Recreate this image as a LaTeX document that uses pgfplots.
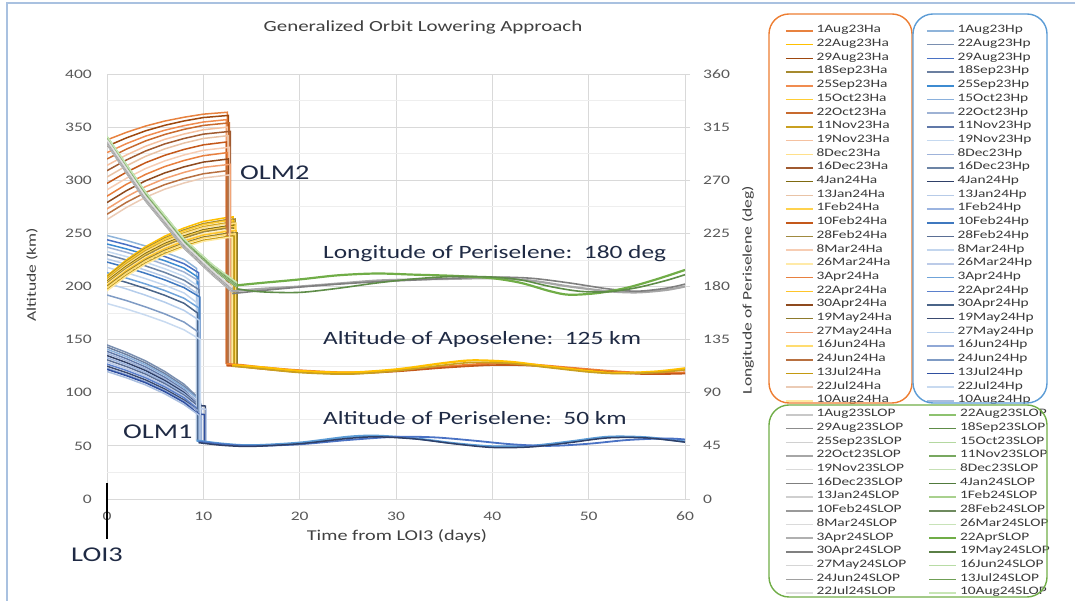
\documentclass[border=0pt]{standalone}
\usepackage{fontspec}
\setmainfont{Carlito}[FakeStretch=1.35]
\usepackage{pgfplots}
\pgfplotsset{compat=1.18}
\usepackage{pgfplotstable}
\newcommand{\fs}[1]{\fontsize{#1pt}{#1pt}\selectfont}
\newcommand{\mb}[1]{\makebox[109pt][l]{#1}}
% general colours
\definecolor{gridc}{HTML}{D9D9D9}
\definecolor{gridm}{HTML}{EEEEEE}
\definecolor{tickc}{HTML}{595959}
\definecolor{labc}{HTML}{404040}
\definecolor{legc}{HTML}{3A3A3A}
\definecolor{annc}{HTML}{1F2A44}
\definecolor{framec}{HTML}{A9C1E0}
\definecolor{boxo}{HTML}{ED7D31}
\definecolor{boxb}{HTML}{5B9BD5}
\definecolor{boxg}{HTML}{70AD47}
% Ha colours
\definecolor{ha1}{HTML}{E8823F}\definecolor{ha2}{HTML}{FFC000}
\definecolor{ha3}{HTML}{9E480E}\definecolor{ha4}{HTML}{A68A2E}
\definecolor{ha5}{HTML}{F08C50}\definecolor{ha6}{HTML}{FFCD33}
\definecolor{ha7}{HTML}{C86A2E}\definecolor{ha8}{HTML}{C9A020}
\definecolor{ha9}{HTML}{F5C1A0}\definecolor{ha10}{HTML}{FFE08A}
\definecolor{ha11}{HTML}{A05A30}\definecolor{ha12}{HTML}{7F6A10}
\definecolor{ha13}{HTML}{E9C3A6}\definecolor{ha14}{HTML}{FFD24D}
\definecolor{ha15}{HTML}{C4581A}\definecolor{ha16}{HTML}{A08A40}
\definecolor{ha17}{HTML}{F7CDB3}\definecolor{ha18}{HTML}{FFEAA8}
\definecolor{ha19}{HTML}{E8803F}\definecolor{ha20}{HTML}{FFC52A}
\definecolor{ha21}{HTML}{8E4A1E}\definecolor{ha22}{HTML}{8E7A2C}
\definecolor{ha23}{HTML}{F2A070}\definecolor{ha24}{HTML}{FFDC70}
\definecolor{ha25}{HTML}{B87040}\definecolor{ha26}{HTML}{C49A10}
\definecolor{ha27}{HTML}{EBCBB5}\definecolor{ha28}{HTML}{FFE9A0}
% Hp colours
\definecolor{hp1}{HTML}{8FB4DA}\definecolor{hp2}{HTML}{7A8FB0}
\definecolor{hp3}{HTML}{4A72C4}\definecolor{hp4}{HTML}{6B7FA0}
\definecolor{hp5}{HTML}{3D8BD1}\definecolor{hp6}{HTML}{8AB0DC}
\definecolor{hp7}{HTML}{9EB2D4}\definecolor{hp8}{HTML}{6078A8}
\definecolor{hp9}{HTML}{C5D9F0}\definecolor{hp10}{HTML}{9FB3DA}
\definecolor{hp11}{HTML}{6C84A5}\definecolor{hp12}{HTML}{2F4068}
\definecolor{hp13}{HTML}{B7CBE8}\definecolor{hp14}{HTML}{9BB4E0}
\definecolor{hp15}{HTML}{3F78BF}\definecolor{hp16}{HTML}{5A6E94}
\definecolor{hp17}{HTML}{C3D6EE}\definecolor{hp18}{HTML}{BCCBE8}
\definecolor{hp19}{HTML}{6FA3D9}\definecolor{hp20}{HTML}{5B80CC}
\definecolor{hp21}{HTML}{4A6488}\definecolor{hp22}{HTML}{3A4A70}
\definecolor{hp23}{HTML}{B5CDEB}\definecolor{hp24}{HTML}{90A8D6}
\definecolor{hp25}{HTML}{7F9BC4}\definecolor{hp26}{HTML}{2F4FA0}
\definecolor{hp27}{HTML}{C8DAF0}\definecolor{hp28}{HTML}{A9BEDF}
% SLOP colours
\definecolor{sl1}{HTML}{C8C8C8}\definecolor{sl2}{HTML}{8DC26F}
\definecolor{sl3}{HTML}{8C8C8C}\definecolor{sl4}{HTML}{5E8C48}
\definecolor{sl5}{HTML}{D0D0D0}\definecolor{sl6}{HTML}{B4D8A0}
\definecolor{sl7}{HTML}{A6A6A6}\definecolor{sl8}{HTML}{78A860}
\definecolor{sl9}{HTML}{D9D9D9}\definecolor{sl10}{HTML}{C5E0B4}
\definecolor{sl11}{HTML}{7F7F7F}\definecolor{sl12}{HTML}{507A3C}
\definecolor{sl13}{HTML}{CFCFCF}\definecolor{sl14}{HTML}{A9D18E}
\definecolor{sl15}{HTML}{999999}\definecolor{sl16}{HTML}{6E8A5E}
\definecolor{sl17}{HTML}{DADADA}\definecolor{sl18}{HTML}{C8E3B8}
\definecolor{sl19}{HTML}{B0B0B0}\definecolor{sl20}{HTML}{70AD47}
\definecolor{sl21}{HTML}{808080}\definecolor{sl22}{HTML}{5A7F46}
\definecolor{sl23}{HTML}{D5D5D5}\definecolor{sl24}{HTML}{B8DCA5}
\definecolor{sl25}{HTML}{A0A0A0}\definecolor{sl26}{HTML}{6F9F55}
\definecolor{sl27}{HTML}{E0E0E0}\definecolor{sl28}{HTML}{C8E6B6}

% post-manoeuvre phases (shared shapes)
\pgfplotstableread{
t v
12.4 127
14 126
16 124
20 121
25 119
30 121
35 124.5
40 127.5
44 126.5
48 123.5
52 120.5
56 118.5
60 119
}\haOA
\pgfplotstableread{
t v
12.4 125.5
14 124.5
16 122.5
20 119.5
25 118
30 120
35 123.5
40 126
44 125.5
48 122.5
52 119.5
56 117.5
60 118
}\haOB
\pgfplotstableread{
t v
13.0 126
16 124
20 120.5
25 119
30 122
35 128
38 130.5
42 129
46 124.5
50 120.5
53 118.5
57 120
60 123
}\haYA
\pgfplotstableread{
t v
13.0 125
16 122.5
20 119
25 117.5
30 120.5
35 126
38 128.5
42 127.5
46 123.5
50 119.5
53 118
57 119
60 121.5
}\haYB
\pgfplotstableread{
t v
9.3 55
12 52
15 50.5
20 53
25 58.5
28 59.5
32 57
36 52.5
40 49.5
44 50
48 54
52 58.5
56 58
60 54
}\hpA
\pgfplotstableread{
t v
9.5 54
12 51.5
15 50
20 51.5
25 55.5
30 58.5
34 58
38 55
42 51.5
46 50
50 52
54 55.5
58 57
60 56
}\hpB
\pgfplotstableread{
t v
9.5 53
12 50.5
15 49.5
20 52
25 57
28 58.5
32 56.5
36 52
40 48.5
44 49
48 53
52 57.5
56 57.5
60 53.5
}\hpC
\pgfplotstableread{
t v
13.5 181
16 183
20 186
24 189.5
28 191
32 190
36 189
40 187
43 183
46 176
48 173
51 174.5
54 179
57 186
60 194
}\sgA
\pgfplotstableread{
t v
13.5 178
16 175.5
20 175
24 178.5
28 183
32 186.5
36 188.5
40 188
43 185.5
46 180
49 176
52 175.5
55 179
58 185
60 190
}\sgB
\pgfplotstableread{
t v
13 176
16 178
20 180
24 182.5
28 185
32 186
36 186.5
40 187
44 185
48 180
52 176
55 175
58 177
60 180
}\sgrA
\pgfplotstableread{
t v
13 174
16 176.5
20 179.5
24 182
28 184
32 185.5
36 187
40 188
44 187
48 183
52 178
55 176
58 178.5
60 182
}\sgrB

\pgfplotsset{
  base/.style={
    at={(107pt,102pt)}, anchor=south west,
    width=578pt, height=425pt, scale only axis,
    xmin=0, xmax=60,
    every axis plot/.append style={line width=1.5pt},
  },
  myleg/.style={
    legend style={draw=none, fill=none, inner sep=0pt, outer sep=0pt,
      font=\fs{11.4}, row sep=0pt, column sep=3pt,
      nodes={inner sep=0pt, text height=8.7pt, text depth=5pt, text=legc},
      anchor=north west, at={#1}},
    legend cell align=left,
    legend image code/.code={\draw[##1, line width=1.5pt] (0pt,0pt) -- (27pt,0pt);},
  },
}

\begin{document}
\begin{tikzpicture}[x=1pt,y=1pt]
\useasboundingbox (0,0) rectangle (1075,601);
\draw[framec, line width=1.2pt] (7,0) -- (7,598) -- (1075,598);

% ---------------- Hp axis (with grid and left scale)
\begin{axis}[base,
  ymin=0, ymax=400,
  ytick={0,50,...,400}, minor ytick={25,75,...,375},
  xtick={0,10,...,60},
  grid=both,
  major grid style={gridc, line width=0.8pt},
  minor grid style={gridm, line width=0.8pt},
  axis line style={draw=none},
  major tick length=0pt, minor tick length=0pt,
  tick label style={font=\fs{13}, text=tickc, /pgf/number format/assume math mode=true},
  xticklabel style={inner sep=0pt, yshift=-13pt},
  yticklabel style={inner sep=0pt, xshift=-15pt},
  xlabel={Time from LOI3 (days)}, ylabel={Altitude (km)},
  xlabel style={font=\fs{15}, text=labc, at={(axis description cs:0.5017,-0.0871)}, anchor=center},
  ylabel style={font=\fs{13}, text=labc, at={(axis description cs:-0.1298,0.527)}, anchor=center},
  myleg={(axis description cs:1.41696,1.1173)},
]
\addplot[hp1] coordinates {(0,248)(2,243.4)(4,238.1)(6,232.2)(8,225.4)(9.3,217)(9.3,55)}; \addlegendentry{1Aug23Hp}
\addplot[hp2] coordinates {(0,145)(2,138)(4,130)(6,120)(8,108)(9.5,95)(9.5,54)}; \addlegendentry{22Aug23Hp}
\addplot[hp3] coordinates {(0,244)(2,239.4)(4,234.1)(6,228.2)(8,221.4)(9.5,213)(9.5,55)}; \addlegendentry{29Aug23Hp}
\addplot[hp4] coordinates {(0,143)(2,136)(4,128)(6,118)(8,106)(9.6,93)(9.6,54)}; \addlegendentry{18Sep23Hp}
\addplot[hp5] coordinates {(0,240)(2,235.4)(4,230.1)(6,224.2)(8,217.4)(9.4,209)(9.4,55)}; \addlegendentry{25Sep23Hp}
\addplot[hp6] coordinates {(0,141)(2,134.1)(4,126.3)(6,116.5)(8,104.7)(9.7,92)(9.7,54)}; \addlegendentry{15Oct23Hp}
\addplot[hp7] coordinates {(0,237)(2,232.2)(4,226.8)(6,220.7)(8,213.6)(9.6,205)(9.6,55)}; \addlegendentry{22Oct23Hp}
\addplot[hp8] coordinates {(0,139)(2,132.1)(4,124.3)(6,114.5)(8,102.7)(9.5,90)(9.5,54)}; \addlegendentry{11Nov23Hp}
\addplot[hp9] coordinates {(0,233)(2,228.2)(4,222.8)(6,216.7)(8,209.6)(9.35,201)(9.35,55)}; \addlegendentry{19Nov23Hp}
\addplot[hp10] coordinates {(0,137)(2,130.3)(4,122.6)(6,113)(8,101.5)(9.8,89)(9.8,54)}; \addlegendentry{8Dec23Hp}
\addplot[hp11] coordinates {(0,230)(2,225)(4,219.4)(6,213.2)(8,205.9)(9.55,197)(9.55,55)}; \addlegendentry{16Dec23Hp}
\addplot[hp12] coordinates {(0,135)(2,128.4)(4,120.9)(6,111.5)(8,100.2)(9.5,88)(10.2,87.5)(10.2,54)}; \addlegendentry{4Jan24Hp}
\addplot[hp13] coordinates {(0,226)(2,221)(4,215.4)(6,209.2)(8,201.9)(9.45,193)(9.45,55)}; \addlegendentry{13Jan24Hp}
\addplot[hp14] coordinates {(0,133)(2,126.6)(4,119.2)(6,110)(8,99)(9.6,87)(9.6,54)}; \addlegendentry{1Feb24Hp}
\addplot[hp15] coordinates {(0,223)(2,218)(4,212.4)(6,206.2)(8,198.9)(9.65,190)(9.65,55)}; \addlegendentry{10Feb24Hp}
\addplot[hp16] coordinates {(0,131)(2,124.7)(4,117.5)(6,108.5)(8,97.7)(9.7,86)(9.7,54)}; \addlegendentry{28Feb24Hp}
\addplot[hp17] coordinates {(0,218)(2,213)(4,207.4)(6,201.2)(8,193.9)(9.3,185)(9.3,55)}; \addlegendentry{8Mar24Hp}
\addplot[hp18] coordinates {(0,129)(2,122.8)(4,115.8)(6,107)(8,96.4)(9.5,85)(10.3,84.5)(10.3,54)}; \addlegendentry{26Mar24Hp}
\addplot[hp19] coordinates {(0,213)(2,208)(4,202.4)(6,196.2)(8,188.9)(9.5,180)(9.5,55)}; \addlegendentry{3Apr24Hp}
\addplot[hp20] coordinates {(0,127)(2,121)(4,114.1)(6,105.5)(8,95.2)(9.5,84)(9.5,54)}; \addlegendentry{22Apr24Hp}
\addplot[hp21] coordinates {(0,209)(2,203.9)(4,198.1)(6,191.7)(8,184.2)(9.4,175)(9.4,55)}; \addlegendentry{30Apr24Hp}
\addplot[hp22] coordinates {(0,125)(2,119)(4,112.1)(6,103.5)(8,93.2)(9.6,82)(9.6,54)}; \addlegendentry{19May24Hp}
\addplot[hp23] coordinates {(0,203)(2,197.8)(4,191.8)(6,185.2)(8,177.5)(9.6,168)(9.6,55)}; \addlegendentry{27May24Hp}
\addplot[hp24] coordinates {(0,123)(2,117.1)(4,110.4)(6,102)(8,91.9)(9.8,81)(9.8,54)}; \addlegendentry{16Jun24Hp}
\addplot[hp25] coordinates {(0,192)(2,186.8)(4,180.8)(6,174.2)(8,166.5)(9.5,157)(9.5,55)}; \addlegendentry{24Jun24Hp}
\addplot[hp26] coordinates {(0,122)(2,116.1)(4,109.4)(6,101)(8,90.9)(9.5,80)(10.1,79.5)(10.1,54)}; \addlegendentry{13Jul24Hp}
\addplot[hp27] coordinates {(0,184)(2,178.9)(4,173.1)(6,166.7)(8,159.2)(9.7,150)(9.7,55)}; \addlegendentry{22Jul24Hp}
\addplot[hp28] coordinates {(0,120)(2,114.1)(4,107.4)(6,99)(8,88.9)(9.7,78)(9.7,54)}; \addlegendentry{10Aug24Hp}
\addplot[boxb, smooth, line width=2.2pt, forget plot] table {\hpA};
\addplot[hp3, smooth, line width=1.8pt, forget plot] table {\hpB};
\addplot[hp12, smooth, line width=1.5pt, forget plot] table {\hpC};
\end{axis}

% ---------------- Ha axis
\begin{axis}[base, ymin=0, ymax=400, hide axis,
  myleg={(axis description cs:1.17301,1.1173)}]
\addplot[ha1] coordinates {(0,338)(2,345)(4,351)(6,355.7)(8,359.3)(10,362.2)(12.5,364)(12.5,127)}; \addlegendentry{1Aug23Ha}
\addplot[ha2] coordinates {(0,210)(2,224.9)(4,237.5)(6,247.4)(8,255.1)(10,261.2)(12.5,265)(13.1,265.5)(13.1,126)}; \addlegendentry{22Aug23Ha}
\addplot[ha3] coordinates {(0,332)(2,339.8)(4,346.5)(6,351.7)(8,355.8)(10,359)(12.6,361)(12.6,127)}; \addlegendentry{29Aug23Ha}
\addplot[ha4] coordinates {(0,209)(2,223.6)(4,236)(6,245.7)(8,253.3)(10,259.2)(12.5,263)(13.3,263.5)(13.3,126)}; \addlegendentry{18Sep23Ha}
\addplot[ha5] coordinates {(0,326)(2,334.4)(4,341.5)(6,347.1)(8,351.4)(10,354.8)(12.4,357)(12.4,127)}; \addlegendentry{25Sep23Ha}
\addplot[ha6] coordinates {(0,208)(2,222.6)(4,235)(6,244.7)(8,252.3)(10,258.2)(12.5,262)(13.0,262.3)(13.0,126)}; \addlegendentry{15Oct23Ha}
\addplot[ha7] coordinates {(0,320)(2,329.2)(4,337)(6,343.1)(8,347.9)(10,351.6)(12.7,354)(12.7,127)}; \addlegendentry{22Oct23Ha}
\addplot[ha8] coordinates {(0,207)(2,221.3)(4,233.5)(6,243)(8,250.5)(10,256.3)(12.5,260)(13.2,260.5)(13.2,126)}; \addlegendentry{11Nov23Ha}
\addplot[ha9] coordinates {(0,314)(2,323.7)(4,332)(6,338.5)(8,343.5)(10,347.5)(12.5,350)(12.5,127)}; \addlegendentry{19Nov23Ha}
\addplot[ha10] coordinates {(0,206)(2,220.3)(4,232.5)(6,242)(8,249.5)(10,255.3)(12.5,259)(13.4,259.6)(13.4,126)}; \addlegendentry{8Dec23Ha}
\addplot[ha11] coordinates {(0,309)(2,319)(4,327.5)(6,334.2)(8,339.3)(10,343.4)(12.8,346)(12.8,127)}; \addlegendentry{16Dec23Ha}
\addplot[ha12] coordinates {(0,205)(2,219)(4,231)(6,240.4)(8,247.6)(10,253.4)(12.5,257)(13.1,257.4)(13.1,126)}; \addlegendentry{4Jan24Ha}
\addplot[ha13] coordinates {(0,303)(2,313.5)(4,322.5)(6,329.5)(8,335)(10,339.3)(12.6,342)(12.6,127)}; \addlegendentry{13Jan24Ha}
\addplot[ha14] coordinates {(0,204)(2,218)(4,230)(6,239.4)(8,246.6)(10,252.4)(12.5,256)(13.3,256.5)(13.3,126)}; \addlegendentry{1Feb24Ha}
\addplot[ha15] coordinates {(0,297)(2,307.5)(4,316.5)(6,323.5)(8,329)(10,333.3)(12.4,336)(12.4,127)}; \addlegendentry{10Feb24Ha}
\addplot[ha16] coordinates {(0,203)(2,217)(4,229)(6,238.4)(8,245.6)(10,251.4)(12.5,255)(13.0,255.3)(13.0,126)}; \addlegendentry{28Feb24Ha}
\addplot[ha17] coordinates {(0,291)(2,301.8)(4,311)(6,318.2)(8,323.8)(10,328.2)(12.7,331)(12.7,127)}; \addlegendentry{8Mar24Ha}
\addplot[ha18] coordinates {(0,202)(2,215.8)(4,227.5)(6,236.7)(8,243.8)(10,249.4)(12.5,253)(13.2,253.5)(13.2,126)}; \addlegendentry{26Mar24Ha}
\addplot[ha19] coordinates {(0,285)(2,296.1)(4,305.5)(6,312.9)(8,318.6)(10,323.1)(12.5,326)(12.5,127)}; \addlegendentry{3Apr24Ha}
\addplot[ha20] coordinates {(0,201)(2,214.8)(4,226.5)(6,235.7)(8,242.8)(10,248.4)(12.5,252)(13.4,252.6)(13.4,126)}; \addlegendentry{22Apr24Ha}
\addplot[ha21] coordinates {(0,279)(2,290.1)(4,299.5)(6,306.9)(8,312.6)(10,317.1)(12.6,320)(12.6,127)}; \addlegendentry{30Apr24Ha}
\addplot[ha22] coordinates {(0,200)(2,213.5)(4,225)(6,234)(8,241)(10,246.5)(12.5,250)(13.5,250.4)(13.5,126)}; \addlegendentry{19May24Ha}
\addplot[ha23] coordinates {(0,273)(2,284.3)(4,294)(6,301.6)(8,307.4)(10,312.1)(12.8,315)(12.8,127)}; \addlegendentry{27May24Ha}
\addplot[ha24] coordinates {(0,199)(2,212.5)(4,224)(6,233)(8,240)(10,245.5)(12.5,249)(13.3,249.5)(13.3,126)}; \addlegendentry{16Jun24Ha}
\addplot[ha25] coordinates {(0,268)(2,279.1)(4,288.5)(6,295.9)(8,301.6)(10,306.1)(12.5,309)(12.5,127)}; \addlegendentry{24Jun24Ha}
\addplot[ha26] coordinates {(0,197)(2,210.5)(4,222)(6,231)(8,238)(10,243.5)(12.5,247)(13.2,247.4)(13.2,126)}; \addlegendentry{13Jul24Ha}
\addplot[ha27] coordinates {(0,263)(2,274.3)(4,284)(6,291.6)(8,297.4)(10,302.1)(12.7,305)(12.7,127)}; \addlegendentry{22Jul24Ha}
\addplot[ha28] coordinates {(0,196)(2,209.5)(4,221)(6,230)(8,237)(10,242.5)(12.5,246)(13.0,246.3)(13.0,126)}; \addlegendentry{10Aug24Ha}
\addplot[boxo, smooth, line width=2.2pt, forget plot] table {\haOA};
\addplot[ha15, smooth, line width=1.6pt, forget plot] table {\haOB};
\addplot[ha2, smooth, line width=2.2pt, forget plot] table {\haYA};
\addplot[ha8, smooth, line width=1.6pt, forget plot] table {\haYB};
\end{axis}

% ---------------- SLOP axis (right scale)
\begin{axis}[base, ymin=0, ymax=360,
  axis x line=none, axis y line*=right,
  y axis line style={draw=none},
  ytick={0,45,...,360},
  tick align=outside, major tick length=5pt,
  ytick style={gridc, line width=0.8pt},
  tick label style={font=\fs{13}, text=tickc, /pgf/number format/assume math mode=true},
  yticklabel style={inner sep=0pt, xshift=13pt},
  ylabel={Longitude of Periselene (deg)},
  ylabel style={font=\fs{13}, text=labc, at={(axis description cs:1.109,0.492)}, anchor=center, rotate=0},
  legend columns=2,
  myleg={(axis description cs:1.17301,0.2141)},
]
\addplot[sl1] coordinates {(0,300.3)(4,252.3)(8,212.3)(11,189.3)(13,175.3)}; \addlegendentry{\mb{1Aug23SLOP}}
\addplot[sl2] coordinates {(0,303.3)(4,256.3)(8,216.3)(11,194.3)(13.5,179.3)}; \addlegendentry{22Aug23SLOP}
\addplot[sl3] coordinates {(0,300.6)(4,252.6)(8,212.6)(11,189.6)(13,175.6)}; \addlegendentry{\mb{29Aug23SLOP}}
\addplot[sl4] coordinates {(0,303.6)(4,256.6)(8,216.6)(11,194.6)(13.5,179.6)}; \addlegendentry{18Sep23SLOP}
\addplot[sl5] coordinates {(0,300.9)(4,252.9)(8,212.9)(11,189.9)(13,175.9)}; \addlegendentry{\mb{25Sep23SLOP}}
\addplot[sl6] coordinates {(0,303.9)(4,256.9)(8,216.9)(11,194.9)(13.5,179.9)}; \addlegendentry{15Oct23SLOP}
\addplot[sl7] coordinates {(0,301.2)(4,253.2)(8,213.2)(11,190.2)(13,176.2)}; \addlegendentry{\mb{22Oct23SLOP}}
\addplot[sl8] coordinates {(0,304.2)(4,257.2)(8,217.2)(11,195.2)(13.5,180.2)}; \addlegendentry{11Nov23SLOP}
\addplot[sl9] coordinates {(0,301.5)(4,253.5)(8,213.5)(11,190.5)(13,176.5)}; \addlegendentry{\mb{19Nov23SLOP}}
\addplot[sl10] coordinates {(0,304.5)(4,257.5)(8,217.5)(11,195.5)(13.5,180.5)}; \addlegendentry{8Dec23SLOP}
\addplot[sl11] coordinates {(0,301.8)(4,253.8)(8,213.8)(11,190.8)(13,176.8)}; \addlegendentry{\mb{16Dec23SLOP}}
\addplot[sl12] coordinates {(0,304.8)(4,257.8)(8,217.8)(11,195.8)(13.5,180.8)}; \addlegendentry{4Jan24SLOP}
\addplot[sl13] coordinates {(0,302.1)(4,254.1)(8,214.1)(11,191.1)(13,177.1)}; \addlegendentry{\mb{13Jan24SLOP}}
\addplot[sl14] coordinates {(0,305.1)(4,258.1)(8,218.1)(11,196.1)(13.5,181.1)}; \addlegendentry{1Feb24SLOP}
\addplot[sl15] coordinates {(0,302.4)(4,254.4)(8,214.4)(11,191.4)(13,177.4)}; \addlegendentry{\mb{10Feb24SLOP}}
\addplot[sl16] coordinates {(0,305.4)(4,258.4)(8,218.4)(11,196.4)(13.5,181.4)}; \addlegendentry{28Feb24SLOP}
\addplot[sl17] coordinates {(0,302.7)(4,254.7)(8,214.7)(11,191.7)(13,177.7)}; \addlegendentry{\mb{8Mar24SLOP}}
\addplot[sl18] coordinates {(0,305.7)(4,258.7)(8,218.7)(11,196.7)(13.5,181.7)}; \addlegendentry{26Mar24SLOP}
\addplot[sl19] coordinates {(0,303.0)(4,255)(8,215)(11,192)(13,178)}; \addlegendentry{\mb{3Apr24SLOP}}
\addplot[sl20] coordinates {(0,306.0)(4,259)(8,219)(11,197)(13.5,182)}; \addlegendentry{22AprSLOP}
\addplot[sl21] coordinates {(0,303.3)(4,255.3)(8,215.3)(11,192.3)(13,178.3)}; \addlegendentry{\mb{30Apr24SLOP}}
\addplot[sl22] coordinates {(0,306.3)(4,259.3)(8,219.3)(11,197.3)(13.5,182.3)}; \addlegendentry{19May24SLOP}
\addplot[sl23] coordinates {(0,303.6)(4,255.6)(8,215.6)(11,192.6)(13,178.6)}; \addlegendentry{\mb{27May24SLOP}}
\addplot[sl24] coordinates {(0,306.6)(4,259.6)(8,219.6)(11,197.6)(13.5,182.6)}; \addlegendentry{16Jun24SLOP}
\addplot[sl25] coordinates {(0,303.9)(4,255.9)(8,215.9)(11,192.9)(13,178.9)}; \addlegendentry{\mb{24Jun24SLOP}}
\addplot[sl26] coordinates {(0,306.9)(4,259.9)(8,219.9)(11,197.9)(13.5,182.9)}; \addlegendentry{13Jul24SLOP}
\addplot[sl27] coordinates {(0,304.2)(4,256.2)(8,216.2)(11,193.2)(13,179.2)}; \addlegendentry{\mb{22Jul24SLOP}}
\addplot[sl28] coordinates {(0,307.2)(4,260.2)(8,220.2)(11,198.2)(13.5,183.2)}; \addlegendentry{10Aug24SLOP}
\addplot[sl7, smooth, line width=2.2pt, forget plot] table {\sgrA};
\addplot[sl11, smooth, line width=1.6pt, forget plot] table {\sgrB};
\addplot[sl20, smooth, line width=2.2pt, forget plot] table {\sgA};
\addplot[sl4, smooth, line width=1.6pt, forget plot] table {\sgB};
\end{axis}

% legend frames
\draw[boxo, line width=1.4pt, rounded corners=20pt] (769,587) rectangle (912,198);
\draw[boxb, line width=1.4pt, rounded corners=20pt] (913,587) rectangle (1047,198);
\draw[boxg, line width=1.4pt, rounded corners=20pt] (769,196) rectangle (1047,4);

% annotations
\node[font=\fs{15.5}, text=labc] at (423,574) {Generalized Orbit Lowering Approach};
\node[font=\fs{18.8}, text=annc, anchor=west, inner sep=0pt] at (323,347) {Longitude of Periselene:\ \ 180 deg};
\node[font=\fs{18.8}, text=annc, anchor=west, inner sep=0pt] at (323,262) {Altitude of Aposelene:\ \ 125 km};
\node[font=\fs{18.8}, text=annc, anchor=west, inner sep=0pt] at (323,183) {Altitude of Periselene:\ \ 50 km};
\node[font=\fs{21}, text=annc, anchor=west, inner sep=0pt] at (240,428) {OLM2};
\node[font=\fs{21}, text=annc, anchor=west, inner sep=0pt] at (123,169) {OLM1};
\node[font=\fs{21}, text=annc, anchor=west, inner sep=0pt] at (71,46) {LOI3};
\draw[black, line width=1.3pt] (107,118) -- (107,62);
\end{tikzpicture}
\end{document}
